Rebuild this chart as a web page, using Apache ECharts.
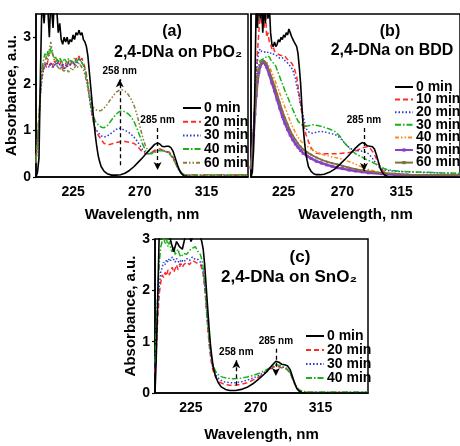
<!DOCTYPE html>
<html>
<head>
<meta charset="utf-8">
<script src="https://cdn.jsdelivr.net/npm/echarts@6/dist/echarts.min.js"></script>
<style>
html,body{margin:0;padding:0;background:#fff;}
#c{width:460px;height:446px;}
</style>
</head>
<body>
<div id="c"></div>
<script>
// ---------- tick labels ----------
const xTicks = [225, 270, 315];
const yTicks = [0, 1, 2, 3];

// ---------- panel (a): 2,4-DNa on PbO2 ----------
const pbo2_0min = [[200,0],[201,0.1],[202,0.4],[203,2.2],[204,3.8],[205.5,3.3],[206.5,3.9],[208,3.6],[209,3.0],[210,3.8],[211.5,3.2],[212.5,3.9],[214,3.6],[215,3.1],[216,3.3],[217,2.95],[218,2.85],[219,3.0],[220,2.9],[221,3.0],[222,2.85],[223,2.95],[224,2.9],[225,3.05],[226,2.95],[227,3.1],[228,3.05],[229,3.15],[230,3.05],[231,3.1],[232,2.95],[233,2.9],[234,2.8],[235,2.6],[236,2.25],[237,1.9],[238,1.55],[239,1.2],[240,0.9],[241,0.65],[242,0.45],[243,0.32],[244,0.22],[246,0.12],[248,0.07],[251,0.04],[254,0.04],[257,0.05],[260,0.08],[263,0.14],[266,0.22],[269,0.32],[272,0.42],[275,0.53],[278,0.63],[280,0.7],[282,0.73],[283.5,0.71],[285,0.66],[286.5,0.65],[288,0.66],[289.5,0.66],[291,0.63],[292.5,0.55],[294,0.4],[295.5,0.25],[297,0.13],[298.5,0.06],[300,0.02],[302,0.01],[305,0],[343,0]];
const pbo2_20min = [[200,0.4],[201,0.8],[202,1.3],[203,1.8],[204,2.15],[205,2.3],[206,2.45],[207,2.35],[208,2.5],[209,2.4],[210,2.45],[211,2.35],[212,2.5],[213,2.45],[214,2.55],[215,2.45],[216,2.4],[217,2.5],[218,2.35],[219,2.4],[220,2.45],[221,2.35],[222,2.5],[223,2.4],[224,2.45],[225,2.5],[226,2.4],[227,2.55],[228,2.5],[229,2.6],[230,2.5],[231,2.55],[232,2.45],[233,2.35],[234,2.2],[235,2.0],[236,1.75],[237,1.5],[238,1.3],[239,1.15],[240,1.02],[242,0.9],[244,0.8],[246,0.72],[248,0.7],[250,0.7],[252,0.72],[254,0.74],[256,0.75],[258,0.76],[260,0.76],[262,0.75],[264,0.74],[266,0.72],[268,0.68],[270,0.6],[272,0.53],[274,0.5],[276,0.5],[278,0.53],[280,0.57],[282,0.6],[284,0.6],[286,0.57],[288,0.55],[290,0.53],[292,0.45],[294,0.32],[296,0.18],[298,0.09],[300,0.04],[303,0.03],[306,0.04],[310,0.03],[315,0.04],[320,0.03],[325,0.04],[330,0.03],[335,0.04],[343,0.03]];
const pbo2_30min = [[200,0.3],[201,0.7],[202,1.2],[203,1.75],[204,2.1],[205,2.3],[206,2.4],[207,2.45],[208,2.4],[209,2.35],[210,2.45],[211,2.4],[212,2.35],[213,2.45],[214,2.4],[215,2.5],[216,2.4],[217,2.35],[218,2.45],[219,2.3],[220,2.4],[221,2.35],[222,2.45],[223,2.4],[224,2.5],[225,2.45],[226,2.4],[227,2.5],[228,2.45],[229,2.55],[230,2.5],[231,2.5],[232,2.4],[233,2.3],[234,2.15],[235,1.95],[236,1.7],[237,1.5],[238,1.3],[239,1.15],[240,1.05],[242,0.95],[244,0.88],[246,0.86],[248,0.88],[250,0.92],[252,0.97],[254,1.02],[256,1.05],[258,1.03],[260,1.0],[262,0.97],[264,0.92],[266,0.86],[268,0.78],[270,0.68],[272,0.58],[274,0.52],[276,0.5],[278,0.52],[280,0.55],[282,0.57],[284,0.58],[286,0.56],[288,0.55],[290,0.52],[292,0.44],[294,0.3],[296,0.17],[298,0.08],[300,0.04],[303,0.03],[306,0.05],[310,0.03],[315,0.05],[320,0.04],[325,0.05],[330,0.03],[335,0.05],[343,0.04]];
const pbo2_40min = [[200,0.35],[201,0.75],[202,1.3],[203,1.9],[204,2.3],[205,2.5],[206,2.65],[207,2.55],[208,2.7],[209,2.6],[210,2.8],[211,2.65],[212,2.55],[213,2.6],[214,2.5],[215,2.45],[216,2.55],[217,2.5],[218,2.45],[219,2.55],[220,2.5],[221,2.45],[222,2.55],[223,2.5],[224,2.45],[225,2.5],[226,2.55],[227,2.45],[228,2.5],[229,2.55],[230,2.5],[231,2.45],[232,2.4],[233,2.3],[234,2.15],[235,1.95],[236,1.75],[237,1.55],[238,1.4],[239,1.28],[240,1.2],[242,1.12],[244,1.07],[246,1.06],[248,1.1],[250,1.18],[252,1.27],[254,1.35],[256,1.4],[258,1.42],[260,1.4],[262,1.36],[264,1.3],[266,1.2],[268,1.05],[270,0.88],[272,0.7],[274,0.56],[276,0.5],[278,0.5],[280,0.53],[282,0.56],[284,0.57],[286,0.56],[288,0.54],[290,0.5],[292,0.42],[294,0.3],[296,0.17],[298,0.08],[300,0.05],[303,0.04],[306,0.05],[310,0.04],[315,0.05],[320,0.04],[325,0.05],[330,0.04],[335,0.05],[343,0.04]];
const pbo2_60min = [[200,0.3],[201,0.7],[202,1.25],[203,1.85],[204,2.25],[205,2.4],[206,2.45],[207,2.6],[208,2.5],[209,2.75],[210,2.9],[211,2.7],[212,2.55],[213,2.45],[214,2.4],[215,2.35],[216,2.3],[217,2.4],[218,2.3],[219,2.25],[220,2.35],[221,2.3],[222,2.25],[223,2.3],[224,2.35],[225,2.3],[226,2.35],[227,2.4],[228,2.35],[229,2.45],[230,2.4],[231,2.4],[232,2.3],[233,2.2],[234,2.05],[235,1.9],[236,1.75],[237,1.62],[238,1.52],[240,1.45],[242,1.42],[244,1.43],[246,1.48],[248,1.56],[250,1.65],[252,1.74],[254,1.82],[256,1.86],[258,1.87],[260,1.84],[262,1.78],[264,1.68],[266,1.55],[268,1.35],[270,1.1],[272,0.85],[274,0.65],[276,0.55],[278,0.52],[280,0.54],[282,0.57],[284,0.58],[286,0.56],[288,0.54],[290,0.5],[292,0.42],[294,0.3],[296,0.18],[298,0.09],[300,0.05],[303,0.04],[306,0.05],[310,0.04],[315,0.05],[320,0.04],[325,0.05],[330,0.04],[335,0.05],[343,0.04]];

// ---------- panel (b): 2,4-DNa on BDD ----------
const bdd_0min = [[200,0],[201,0.1],[202,0.6],[203,2.0],[204,3.8],[205,3.2],[206,3.9],[207,3.4],[208,3.8],[209,3.1],[210,3.7],[211,3.3],[212,3.9],[213,3.4],[214,3.7],[215,3.1],[216,2.85],[217,2.8],[218,2.9],[219,2.8],[220,2.85],[221,2.95],[222,2.9],[223,3.0],[224,2.95],[225,3.05],[226,3.0],[227,3.1],[228,3.05],[229,3.18],[230,3.1],[231,3.02],[232,2.98],[233,2.9],[234,2.88],[235,2.8],[236,2.65],[237,2.35],[238,2.0],[239,1.5],[240,1.05],[241,0.75],[242,0.5],[243,0.35],[244,0.22],[246,0.12],[248,0.07],[250,0.05],[253,0.05],[256,0.06],[260,0.1],[264,0.17],[268,0.27],[272,0.38],[276,0.5],[280,0.62],[283,0.7],[285,0.74],[287,0.72],[289,0.67],[291,0.66],[293,0.65],[294.5,0.6],[296,0.48],[297.5,0.33],[299,0.18],[300.5,0.1],[302,0.05],[304,0.02],[306,0],[360,0]];
const bdd_10min = [[200,0.2],[201,0.5],[202,1.0],[203,1.6],[204,2.2],[205,2.7],[206,3.1],[207,3.6],[208,3.3],[209,3.8],[210,3.2],[211,3.6],[212,3.0],[213,3.1],[214,2.9],[215,2.85],[216,2.75],[217,2.8],[218,2.7],[219,2.72],[220,2.65],[221,2.68],[222,2.62],[223,2.65],[224,2.6],[225,2.58],[226,2.6],[227,2.55],[228,2.55],[229,2.5],[230,2.5],[231,2.45],[232,2.4],[233,2.35],[234,2.25],[235,2.15],[236,1.95],[237,1.75],[238,1.55],[239,1.35],[240,1.2],[241,1.05],[242,0.92],[244,0.76],[246,0.63],[248,0.55],[250,0.51],[254,0.5],[258,0.5],[262,0.5],[266,0.5],[270,0.51],[274,0.52],[278,0.54],[281,0.57],[284,0.61],[287,0.64],[289,0.65],[291,0.62],[293,0.55],[295,0.45],[297,0.33],[299,0.22],[301,0.14],[303,0.09],[306,0.06],[310,0.05],[315,0.05],[320,0.04],[330,0.04],[340,0.04],[350,0.03],[360,0.03]];
const bdd_20min = [[200,0.25],[201,0.6],[202,1.1],[203,1.7],[204,2.2],[205,2.5],[206,2.7],[207,2.75],[208,2.7],[209,2.72],[210,2.68],[212,2.7],[214,2.65],[216,2.67],[218,2.62],[220,2.6],[222,2.55],[224,2.56],[226,2.5],[228,2.45],[230,2.38],[232,2.3],[233,2.2],[234,2.12],[235,1.95],[236,1.85],[237,1.7],[238,1.55],[239,1.45],[240,1.3],[241,1.18],[242,1.07],[243,1.0],[245,0.95],[247,0.94],[250,0.96],[253,0.98],[256,0.97],[259,0.95],[262,0.93],[265,0.9],[268,0.85],[271,0.75],[274,0.66],[277,0.6],[280,0.57],[283,0.56],[286,0.55],[289,0.52],[291,0.47],[293,0.4],[295,0.32],[297,0.24],[299,0.19],[301,0.16],[304,0.14],[308,0.13],[312,0.12],[320,0.11],[330,0.1],[340,0.09],[350,0.08],[360,0.07]];
const bdd_30min = [[200,0.25],[201,0.55],[202,1.0],[203,1.5],[204,1.95],[205,2.25],[206,2.4],[207,2.5],[208,2.48],[209,2.53],[210,2.5],[211,2.55],[212,2.6],[213,2.56],[214,2.58],[215,2.52],[216,2.48],[217,2.45],[218,2.42],[219,2.38],[220,2.3],[222,2.15],[224,2.0],[226,1.85],[228,1.72],[230,1.58],[232,1.45],[234,1.32],[236,1.2],[238,1.14],[240,1.1],[242,1.09],[244,1.1],[246,1.12],[248,1.12],[252,1.1],[256,1.07],[260,1.03],[264,0.98],[268,0.88],[272,0.72],[276,0.6],[280,0.5],[284,0.44],[288,0.38],[292,0.33],[296,0.27],[300,0.2],[304,0.16],[308,0.14],[315,0.12],[325,0.11],[335,0.1],[345,0.09],[360,0.08]];
const bdd_40min = [[200,0.25],[201,0.55],[202,0.95],[203,1.4],[204,1.8],[205,2.1],[206,2.3],[207,2.4],[208,2.45],[209,2.48],[210,2.5],[211,2.5],[212,2.47],[213,2.42],[214,2.38],[216,2.25],[218,2.1],[220,1.95],[222,1.8],[224,1.65],[226,1.5],[228,1.35],[230,1.2],[232,1.07],[234,0.95],[236,0.85],[238,0.78],[240,0.72],[243,0.66],[246,0.6],[250,0.54],[254,0.49],[258,0.46],[262,0.43],[266,0.41],[270,0.38],[274,0.34],[278,0.3],[282,0.25],[286,0.2],[290,0.16],[295,0.12],[300,0.09],[306,0.07],[315,0.06],[325,0.05],[340,0.04],[360,0.04]];
const bdd_50min = [[200,0.2],[201,0.5],[202,0.9],[203,1.35],[204,1.75],[205,2.05],[206,2.25],[207,2.38],[208,2.44],[209,2.47],[210,2.46],[211,2.42],[212,2.36],[214,2.2],[216,2.02],[218,1.85],[220,1.66],[222,1.48],[224,1.3],[226,1.15],[228,1.02],[230,0.9],[232,0.8],[234,0.71],[236,0.64],[238,0.57],[240,0.51],[243,0.45],[246,0.4],[250,0.34],[254,0.3],[258,0.26],[262,0.23],[266,0.2],[270,0.18],[275,0.15],[280,0.13],[285,0.11],[290,0.09],[300,0.07],[310,0.05],[320,0.04],[335,0.03],[360,0.03]];
const bdd_60min = [[200,0.2],[201,0.5],[202,0.92],[203,1.38],[204,1.78],[205,2.08],[206,2.28],[207,2.4],[208,2.46],[209,2.49],[210,2.49],[211,2.46],[212,2.42],[214,2.28],[216,2.12],[218,1.96],[220,1.78],[222,1.6],[224,1.42],[226,1.27],[228,1.13],[230,1.0],[232,0.89],[234,0.8],[236,0.72],[238,0.65],[240,0.59],[243,0.53],[246,0.48],[250,0.42],[254,0.37],[258,0.33],[262,0.3],[266,0.27],[270,0.24],[275,0.2],[280,0.17],[285,0.14],[290,0.12],[300,0.09],[310,0.07],[320,0.05],[335,0.04],[360,0.04]];

// ---------- panel (c): 2,4-DNa on SnO2 ----------
const sno2_0min = [[200,0],[200.8,0.6],[201.5,1.4],[202.2,2.2],[203,3.2],[205,3.4],[207,3.1],[209,3.3],[211,2.95],[213,2.75],[215,2.95],[217,2.85],[219,2.8],[221,3.05],[223,3.2],[225,2.95],[227,3.1],[229,3.2],[231,3.1],[232.5,2.95],[233.5,2.8],[234.5,2.5],[235.5,2.1],[236.5,1.7],[237.5,1.3],[238.5,0.95],[239.5,0.7],[240.5,0.5],[242,0.33],[244,0.2],[246,0.12],[249,0.07],[252,0.05],[256,0.05],[260,0.07],[264,0.11],[268,0.18],[272,0.27],[276,0.37],[279,0.46],[282,0.56],[284,0.62],[286,0.6],[288,0.56],[290,0.55],[292,0.53],[294,0.45],[295.5,0.32],[297,0.19],[298.5,0.09],[300,0.04],[302,0.01],[305,0],[348,0]];
const sno2_20min = [[200,0.4],[201,0.9],[202,1.5],[203,1.95],[204,2.15],[205,2.3],[206,2.25],[207,2.35],[208,2.28],[209,2.4],[210,2.3],[211,2.38],[212,2.45],[213,2.35],[214,2.42],[215,2.5],[216,2.4],[217,2.45],[218,2.52],[219,2.45],[220,2.5],[222,2.55],[224,2.5],[226,2.58],[228,2.55],[230,2.52],[231.5,2.5],[233,2.4],[234,2.2],[235,1.9],[236,1.5],[237,1.15],[238,0.85],[239,0.62],[240,0.47],[241.5,0.35],[243,0.27],[245,0.21],[248,0.17],[252,0.15],[256,0.15],[260,0.17],[264,0.2],[268,0.25],[272,0.31],[276,0.38],[279,0.44],[282,0.5],[284,0.52],[286,0.51],[288,0.49],[290,0.48],[292,0.45],[294,0.38],[296,0.25],[298,0.13],[300,0.06],[303,0.02],[306,0.01],[310,0.01],[348,0.01]];
const sno2_30min = [[200,0.5],[201,1.05],[202,1.65],[203,2.1],[204,2.35],[205,2.45],[206,2.55],[207,2.5],[208,2.6],[209,2.55],[210,2.62],[211,2.58],[212,2.65],[213,2.6],[214,2.55],[215,2.62],[216,2.58],[217,2.5],[218,2.6],[220,2.55],[222,2.62],[224,2.58],[226,2.65],[228,2.6],[230,2.6],[231.5,2.55],[233,2.45],[234,2.25],[235,1.95],[236,1.55],[237,1.2],[238,0.9],[239,0.68],[240,0.52],[241.5,0.4],[243,0.32],[245,0.26],[248,0.22],[252,0.2],[256,0.2],[260,0.22],[264,0.25],[268,0.29],[272,0.34],[276,0.4],[279,0.46],[282,0.52],[284,0.54],[286,0.53],[288,0.51],[290,0.5],[292,0.47],[294,0.39],[296,0.26],[298,0.13],[300,0.06],[303,0.02],[306,0.01],[310,0.01],[348,0.01]];
const sno2_40min = [[200,0.6],[201,1.3],[202,2.0],[203,2.55],[204,2.85],[205,2.95],[206,3.05],[207,2.9],[208,3.0],[209,2.85],[210,2.95],[211,2.8],[212,2.75],[213,2.85],[214,2.7],[215,2.75],[216,2.8],[217,2.7],[218,2.65],[220,2.72],[222,2.7],[224,2.78],[226,2.82],[228,2.85],[230,2.75],[231.5,2.7],[233,2.55],[234,2.3],[235,2.0],[236,1.6],[237,1.25],[238,0.95],[239,0.74],[240,0.58],[241.5,0.46],[243,0.38],[245,0.33],[248,0.3],[252,0.28],[256,0.28],[260,0.29],[264,0.31],[268,0.34],[272,0.38],[276,0.43],[279,0.48],[282,0.52],[284,0.55],[286,0.54],[288,0.52],[290,0.5],[292,0.46],[294,0.39],[296,0.26],[298,0.13],[300,0.06],[303,0.03],[306,0.02],[310,0.02],[348,0.02]];

// annotation arrows (wavelength, absorbance): [start, arrow tip]
const annA258 = [[256.5,0.25],[256.5,2.1]];
const annA285 = [[282,1.05],[282,0.15]];
const annB285 = [[286.5,1.05],[286.5,0.13]];
const annC258 = [[256.5,0.15],[256.5,0.64]];
const annC285 = [[284,0.86],[284,0.33]];

const FONT = '"Liberation Sans", Arial, sans-serif';
const COL = {k:'#000000', r:'#ff2a2a', b:'#2b3bd6', g:'#19b219', o:'#8c7a3a', or:'#ff8a1f', p:'#8a3fc8', ol:'#7d7038'};
const STY = {dash:[5,3], dot:[1.5,2], dashdot:[6,2,1.5,2], dashdotdot:[4,2,1.5,2,1.5,2]};

function ser(name, data, gi, color, type, width, extra) {
  return Object.assign({
    name: name, type: 'line', data: data,
    xAxisIndex: gi, yAxisIndex: gi,
    symbol: 'none', clip: true, color: color,
    lineStyle: {color: color, width: width || 1.5, type: type},
    z: 3
  }, extra || {});
}

const series = [
  ser('a|0 min', pbo2_0min, 0, COL.k, 'solid', 1.6, {z: 5}),
  ser('a|20 min', pbo2_20min, 0, COL.r, STY.dash, 1.5),
  ser('a|30 min', pbo2_30min, 0, COL.b, STY.dot, 1.5),
  ser('a|40 min', pbo2_40min, 0, COL.g, STY.dashdot, 1.5),
  ser('a|60 min', pbo2_60min, 0, COL.o, STY.dashdotdot, 1.5),

  ser('b|0 min', bdd_0min, 1, COL.k, 'solid', 1.6, {z: 5}),
  ser('b|10 min', bdd_10min, 1, COL.r, STY.dash, 1.5),
  ser('b|20 min', bdd_20min, 1, COL.b, STY.dot, 1.5),
  ser('b|30 min', bdd_30min, 1, COL.g, STY.dashdot, 1.5),
  ser('b|40 min', bdd_40min, 1, COL.or, STY.dashdotdot, 1.5),
  ser('b|50 min', bdd_50min, 1, COL.p, 'solid', 2.5, {symbol: 'rect', symbolSize: 3, showSymbol: true, itemStyle: {color: COL.p}}),
  ser('b|60 min', bdd_60min, 1, COL.ol, 'solid', 1.8, {symbol: 'rect', symbolSize: 2, showSymbol: true, itemStyle: {color: COL.ol}}),

  ser('c|0 min', sno2_0min, 2, COL.k, 'solid', 1.6, {z: 5}),
  ser('c|20 min', sno2_20min, 2, COL.r, STY.dash, 1.5),
  ser('c|30 min', sno2_30min, 2, COL.b, STY.dot, 1.5),
  ser('c|40 min', sno2_40min, 2, COL.g, STY.dashdot, 1.5)
];

function annSeries(gi, items) {
  return {
    name: 'ann' + gi, type: 'line', data: [], xAxisIndex: gi, yAxisIndex: gi,
    symbol: 'none', silent: true, z: 6,
    markLine: {
      silent: true, animation: false,
      symbol: ['none', 'arrow'], symbolSize: [6, 8],
      lineStyle: {color: '#000', type: [4, 3], width: 1.3},
      data: items.map(it => [
        {coord: it.pts[0], label: {show: true, formatter: it.text, position: it.up ? 'end' : 'start',
          fontSize: 10, fontWeight: 'bold', color: '#000', fontFamily: FONT, distance: 3}},
        {coord: it.pts[1]}
      ])
    }
  };
}
series.push(annSeries(0, [
  {pts: annA258, text: '258 nm', up: true},
  {pts: annA285, text: '285 nm', up: false}
]));
series.push(annSeries(1, [
  {pts: annB285, text: '285 nm', up: false}
]));
series.push(annSeries(2, [
  {pts: annC258, text: '258 nm', up: true},
  {pts: annC285, text: '285 nm', up: false}
]));

function xAx(gi, max, gap) {
  return {
    type: 'value', gridIndex: gi, min: 200, max: max,
    name: 'Wavelength, nm', nameLocation: 'middle', nameGap: gap,
    nameTextStyle: {fontSize: 15, fontWeight: 'bold', color: '#000', fontFamily: FONT},
    axisLine: {show: true, lineStyle: {color: '#000', width: 1.5}},
    axisTick: {show: false},
    splitLine: {show: false},
    axisLabel: {customValues: xTicks, fontSize: 14, fontWeight: 'bold', color: '#000', fontFamily: FONT, margin: 8}
  };
}
function yAx(gi, max, showLabels) {
  return {
    type: 'value', gridIndex: gi, min: 0, max: max,
    name: showLabels ? 'Absorbance, a.u.' : '', nameLocation: 'middle', nameGap: 14, nameRotate: 90,
    nameTextStyle: {fontSize: 15, fontWeight: 'bold', color: '#000', fontFamily: FONT},
    axisLine: {show: true, lineStyle: {color: '#000', width: 1.5}},
    axisTick: {show: showLabels, customValues: yTicks, length: 3, lineStyle: {color: '#000', width: 1.2}},
    splitLine: {show: false},
    axisLabel: {show: showLabels, customValues: yTicks, fontSize: 14, fontWeight: 'bold', color: '#000', fontFamily: FONT, margin: 5}
  };
}

function legendCfg(prefix, left, top, gap, ih) {
  return {
    orient: 'vertical', left: left, top: top,
    data: series.filter(s => s.name.indexOf(prefix + '|') === 0).map(s => ({
      name: s.name,
      itemStyle: s.showSymbol ? undefined : {opacity: 0}
    })),
    formatter: n => n.split('|')[1],
    itemWidth: 18, itemHeight: ih, itemGap: gap,
    padding: 0, selectedMode: false,
    textStyle: {fontSize: 14, fontWeight: 'bold', color: '#000', fontFamily: FONT, padding: [0, 0, 0, -2]}
  };
}

function titleText(x, y, text, fs) {
  return {type: 'text', x: x, y: y, z: 10, silent: true,
    style: {text: text, fill: '#000', font: 'bold ' + fs + 'px ' + FONT, textAlign: 'center', textVerticalAlign: 'middle'}};
}

const option = {
  animation: false,
  backgroundColor: '#fff',
  grid: [
    {left: 36, top: 14, width: 212, height: 163, show: true, borderColor: '#000', borderWidth: 1.5, backgroundColor: 'transparent'},
    {left: 251, top: 14, width: 219, height: 163, show: true, borderColor: '#000', borderWidth: 1.5, backgroundColor: '#fff'},
    {left: 155, top: 239, width: 213, height: 154, show: true, borderColor: '#000', borderWidth: 1.5, backgroundColor: 'transparent'}
  ],
  xAxis: [xAx(0, 343, 30), xAx(1, 360, 30), xAx(2, 348, 34)],
  yAxis: [yAx(0, 3.5, true), yAx(1, 3.5, false), yAx(2, 3, true)],
  legend: [
    legendCfg('a', 182, 101, -0.3, 8),
    legendCfg('b', 394, 80, -1.4, 4),
    legendCfg('c', 305, 329, 0, 8)
  ],
  graphic: [
    titleText(172, 32, '(a)', 16),
    titleText(178, 53, '2,4-DNa on PbO\u2082', 16),
    titleText(390, 32, '(b)', 16),
    titleText(392, 51, '2,4-DNa on BDD', 16),
    titleText(300, 257, '(c)', 17),
    titleText(289, 277, '2,4-DNa on SnO\u2082', 17)
  ],
  series: series
};

const chart = echarts.init(document.getElementById('c'), null, {renderer: 'canvas'});
chart.setOption(option);
</script>
</body>
</html>
